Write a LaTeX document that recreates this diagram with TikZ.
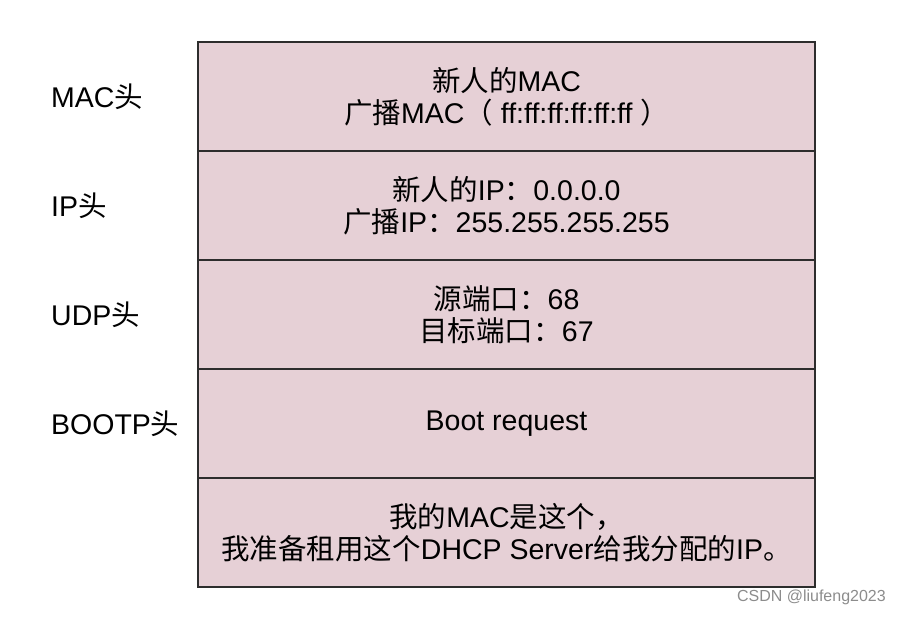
\documentclass[tikz,border=0pt]{standalone}
\usepackage{fontspec}
\setmainfont{Liberation Sans}
\newfontfamily\cjk{Noto Sans CJK SC}
\newcommand{\zh}[1]{{\cjk #1}}
\usetikzlibrary{positioning}
\definecolor{layerpink}{RGB}{230,208,214}
\definecolor{layerline}{RGB}{45,45,45}
\tikzset{
  layer/.style={draw=layerline, fill=layerpink, line width=1.4pt,
    minimum width=617pt, minimum height=109pt, inner sep=0pt, outer sep=0pt,
    align=center, font=\fontsize{28.5}{32}\selectfont},
  headlbl/.style={anchor=west, inner sep=0pt, font=\fontsize{28.5}{32}\selectfont}
}
\begin{document}
\begin{tikzpicture}[x=1pt,y=-1pt]
    \useasboundingbox (0,0) rectangle (899,616);
    % packet layers
    \node[layer] (mac) at (506.5,96.5) {\zh{新人的}MAC\\\zh{广播}MAC\zh{（} ff:ff:ff:ff:ff:ff \zh{）}};
    \node[layer, below=0pt of mac] (ip) {\zh{新人的}IP\zh{：}0.0.0.0\\\zh{广播}IP\zh{：}255.255.255.255};
    \node[layer, below=0pt of ip] (udp) {\zh{源端口：}68\\\zh{目标端口：}67};
    \node[layer, below=0pt of udp] (bootp) {Boot request};
    \node[layer, below=0pt of bootp] (body) {\zh{我的}MAC\zh{是这个，}\\\zh{我准备租用这个}DHCP Server\zh{给我分配的}IP\zh{。}};
    % header names
    \node[headlbl] (maclbl) at (51,0 |- mac.center) {MAC\zh{头}};
    \node[headlbl] (iplbl) at (51,0 |- ip.center) {IP\zh{头}};
    \node[headlbl] (udplbl) at (51,0 |- udp.center) {UDP\zh{头}};
    \node[headlbl] (bootplbl) at (51,0 |- bootp.center) {BOOTP\zh{头}};
    \node[anchor=east, inner sep=0pt, text=black!45, font=\fontsize{16}{16}\selectfont] (mark) at (886,597) {CSDN @liufeng2023};
\end{tikzpicture}
\end{document}
